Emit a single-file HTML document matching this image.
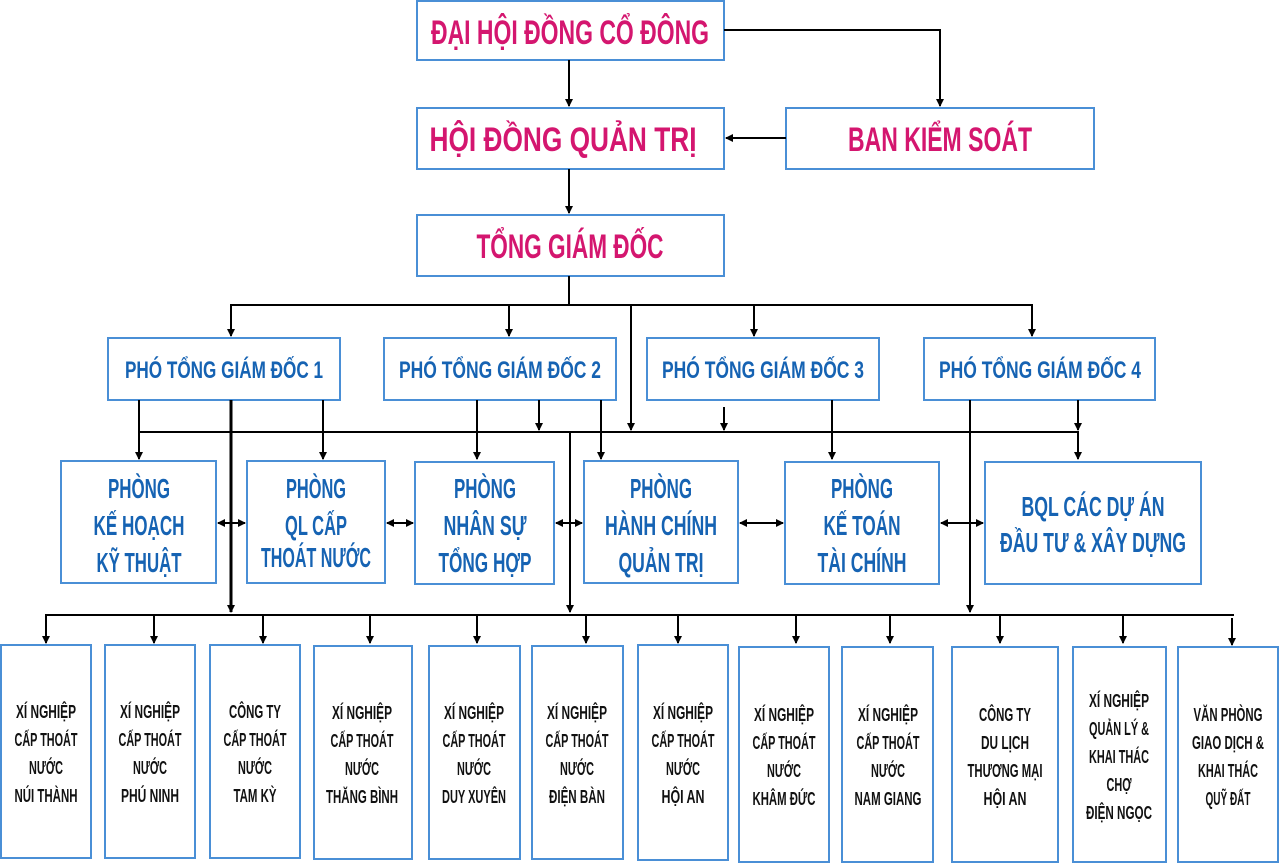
<!DOCTYPE html>
<html><head><meta charset="utf-8"><style>
html,body{margin:0;padding:0;background:#fff}
svg{display:block}
text{font-family:"Liberation Sans","DejaVu Sans",sans-serif;font-weight:bold;text-anchor:middle}
.t{fill:#d4166f;font-size:34px}
.p{fill:#1663b3;font-size:24px}
.d{fill:#1663b3;font-size:28px}
.b{fill:#111;font-size:18px}
rect{fill:#fff;stroke:#4a8fd6;stroke-width:2}
line,polyline{stroke:#000;stroke-width:2;fill:none}
</style></head><body>
<svg width="1280" height="864" viewBox="0 0 1280 864">
<defs>
<marker id="a" markerWidth="8" markerHeight="8" refX="7" refY="4" orient="auto" markerUnits="userSpaceOnUse" viewBox="0 0 8 8"><path d="M0,0 L8,4 L0,8 z" fill="#000"/></marker>
<marker id="s" markerWidth="8" markerHeight="8" refX="1" refY="4" orient="auto" markerUnits="userSpaceOnUse" viewBox="0 0 8 8"><path d="M8,0 L0,4 L8,8 z" fill="#000"/></marker>
</defs>

<rect x="417" y="1" width="307" height="59"/>
<rect x="417" y="108" width="307" height="61"/>
<rect x="786" y="108" width="308" height="61"/>
<rect x="417" y="215" width="307" height="61"/>
<text class="t" x="570" y="44" textLength="278" lengthAdjust="spacingAndGlyphs">ĐẠI HỘI ĐỒNG CỔ ĐÔNG</text>
<text class="t" x="563" y="151" textLength="267" lengthAdjust="spacingAndGlyphs">HỘI ĐỒNG QUẢN TRỊ</text>
<text class="t" x="940" y="151" textLength="184" lengthAdjust="spacingAndGlyphs">BAN KIỂM SOÁT</text>
<text class="t" x="570" y="258" textLength="187" lengthAdjust="spacingAndGlyphs">TỔNG GIÁM ĐỐC</text>

<polyline points="724,30 940,30 940,106" marker-end="url(#a)"/>
<line x1="569" y1="60" x2="569" y2="106" marker-end="url(#a)"/>
<line x1="786" y1="138" x2="726" y2="138" marker-end="url(#a)"/>
<line x1="569" y1="169" x2="569" y2="213" marker-end="url(#a)"/>
<line x1="569" y1="276" x2="569" y2="305"/>
<line x1="230" y1="305" x2="1033" y2="305"/>
<line x1="231" y1="305" x2="231" y2="336" marker-end="url(#a)"/>
<line x1="509" y1="305" x2="509" y2="336" marker-end="url(#a)"/>
<line x1="754" y1="305" x2="754" y2="336" marker-end="url(#a)"/>
<line x1="1032" y1="305" x2="1032" y2="336" marker-end="url(#a)"/>
<line x1="631" y1="305" x2="631" y2="430" marker-end="url(#a)"/>

<rect x="108" y="338" width="232" height="62"/>
<rect x="384" y="338" width="232" height="62"/>
<rect x="647" y="338" width="232" height="62"/>
<rect x="924" y="338" width="231" height="62"/>
<text class="p" x="224" y="378" textLength="198" lengthAdjust="spacingAndGlyphs">PHÓ TỔNG GIÁM ĐỐC 1</text>
<text class="p" x="500" y="378" textLength="202" lengthAdjust="spacingAndGlyphs">PHÓ TỔNG GIÁM ĐỐC 2</text>
<text class="p" x="763" y="378" textLength="202" lengthAdjust="spacingAndGlyphs">PHÓ TỔNG GIÁM ĐỐC 3</text>
<text class="p" x="1040" y="378" textLength="202" lengthAdjust="spacingAndGlyphs">PHÓ TỔNG GIÁM ĐỐC 4</text>

<line x1="139" y1="432" x2="1079" y2="432"/>
<line x1="139" y1="400" x2="139" y2="459" marker-end="url(#a)"/>
<line x1="323" y1="400" x2="323" y2="459" marker-end="url(#a)"/>
<line x1="231" y1="400" x2="231" y2="612" marker-end="url(#a)" style="stroke-width:3"/>
<line x1="477" y1="400" x2="477" y2="459" marker-end="url(#a)"/>
<line x1="539" y1="400" x2="539" y2="430" marker-end="url(#a)"/>
<line x1="601" y1="400" x2="601" y2="459" marker-end="url(#a)"/>
<line x1="570" y1="432" x2="570" y2="612" marker-end="url(#a)"/>
<line x1="724" y1="407" x2="724" y2="430" marker-end="url(#a)"/>
<line x1="832" y1="400" x2="832" y2="459" marker-end="url(#a)"/>
<line x1="970" y1="400" x2="970" y2="612" marker-end="url(#a)"/>
<line x1="1078" y1="400" x2="1078" y2="430" marker-end="url(#a)"/>
<line x1="1078" y1="432" x2="1078" y2="459" marker-end="url(#a)"/>

<rect x="61" y="461" width="155" height="122"/>
<rect x="247" y="461" width="138" height="122"/>
<rect x="415" y="462" width="139" height="122"/>
<rect x="584" y="461" width="154" height="122"/>
<rect x="785" y="462" width="154" height="122"/>
<rect x="985" y="462" width="216" height="122"/>
<text class="d" x="139" y="498" textLength="62" lengthAdjust="spacingAndGlyphs">PHÒNG</text><text class="d" x="139" y="535" textLength="91" lengthAdjust="spacingAndGlyphs">KẾ HOẠCH</text><text class="d" x="139" y="572" textLength="85" lengthAdjust="spacingAndGlyphs">KỸ THUẬT</text>
<text class="d" x="316" y="498" textLength="60" lengthAdjust="spacingAndGlyphs">PHÒNG</text><text class="d" x="316" y="535" textLength="62" lengthAdjust="spacingAndGlyphs">QL CẤP</text><text class="d" x="316" y="567" textLength="110" lengthAdjust="spacingAndGlyphs">THOÁT NƯỚC</text>
<text class="d" x="485" y="498" textLength="62" lengthAdjust="spacingAndGlyphs">PHÒNG</text><text class="d" x="485" y="535" textLength="83" lengthAdjust="spacingAndGlyphs">NHÂN SỰ</text><text class="d" x="485" y="572" textLength="93" lengthAdjust="spacingAndGlyphs">TỔNG HỢP</text>
<text class="d" x="661" y="498" textLength="62" lengthAdjust="spacingAndGlyphs">PHÒNG</text><text class="d" x="661" y="535" textLength="112" lengthAdjust="spacingAndGlyphs">HÀNH CHÍNH</text><text class="d" x="661" y="572" textLength="85" lengthAdjust="spacingAndGlyphs">QUẢN TRỊ</text>
<text class="d" x="862" y="498" textLength="62" lengthAdjust="spacingAndGlyphs">PHÒNG</text><text class="d" x="862" y="535" textLength="77" lengthAdjust="spacingAndGlyphs">KẾ TOÁN</text><text class="d" x="862" y="572" textLength="89" lengthAdjust="spacingAndGlyphs">TÀI CHÍNH</text>
<text class="d" x="1093" y="516" textLength="143" lengthAdjust="spacingAndGlyphs">BQL CÁC DỰ ÁN</text><text class="d" x="1093" y="552" textLength="186" lengthAdjust="spacingAndGlyphs">ĐẦU TƯ &amp; XÂY DỰNG</text>
<line x1="218" y1="523" x2="245" y2="523" marker-start="url(#s)" marker-end="url(#a)"/>
<line x1="387" y1="523" x2="413" y2="523" marker-start="url(#s)" marker-end="url(#a)"/>
<line x1="556" y1="523" x2="582" y2="523" marker-start="url(#s)" marker-end="url(#a)"/>
<line x1="740" y1="523" x2="783" y2="523" marker-start="url(#s)" marker-end="url(#a)"/>
<line x1="941" y1="523" x2="983" y2="523" marker-start="url(#s)" marker-end="url(#a)"/>

<line x1="45" y1="615" x2="1234" y2="615"/>
<line x1="46" y1="615" x2="46" y2="643" marker-end="url(#a)"/>
<line x1="154" y1="615" x2="154" y2="643" marker-end="url(#a)"/>
<line x1="263" y1="615" x2="263" y2="643" marker-end="url(#a)"/>
<line x1="370" y1="615" x2="370" y2="643" marker-end="url(#a)"/>
<line x1="477" y1="615" x2="477" y2="643" marker-end="url(#a)"/>
<line x1="586" y1="615" x2="586" y2="643" marker-end="url(#a)"/>
<line x1="678" y1="615" x2="678" y2="643" marker-end="url(#a)"/>
<line x1="796" y1="615" x2="796" y2="643" marker-end="url(#a)"/>
<line x1="890" y1="615" x2="890" y2="643" marker-end="url(#a)"/>
<line x1="1000" y1="615" x2="1000" y2="643" marker-end="url(#a)"/>
<line x1="1123" y1="615" x2="1123" y2="643" marker-end="url(#a)"/>
<line x1="1232" y1="618" x2="1232" y2="645" marker-end="url(#a)"/>
<rect x="1" y="645" width="90" height="213"/>
<rect x="105" y="645" width="90" height="213"/>
<rect x="210" y="645" width="90" height="213"/>
<rect x="314" y="646" width="98" height="213"/>
<rect x="429" y="646" width="91" height="213"/>
<rect x="532" y="646" width="91" height="213"/>
<rect x="638" y="645" width="90" height="215"/>
<rect x="739" y="647" width="90" height="215"/>
<rect x="842" y="647" width="91" height="215"/>
<rect x="952" y="647" width="106" height="215"/>
<rect x="1073" y="647" width="93" height="215"/>
<rect x="1178" y="647" width="100" height="215"/>

<text class="b" x="46" y="718" textLength="60" lengthAdjust="spacingAndGlyphs">XÍ NGHIỆP</text><text class="b" x="46" y="746" textLength="63" lengthAdjust="spacingAndGlyphs">CẤP THOÁT</text><text class="b" x="46" y="774" textLength="34" lengthAdjust="spacingAndGlyphs">NƯỚC</text><text class="b" x="46" y="802" textLength="63" lengthAdjust="spacingAndGlyphs">NÚI THÀNH</text>
<text class="b" x="150" y="718" textLength="60" lengthAdjust="spacingAndGlyphs">XÍ NGHIỆP</text><text class="b" x="150" y="746" textLength="63" lengthAdjust="spacingAndGlyphs">CẤP THOÁT</text><text class="b" x="150" y="774" textLength="34" lengthAdjust="spacingAndGlyphs">NƯỚC</text><text class="b" x="150" y="802" textLength="58" lengthAdjust="spacingAndGlyphs">PHÚ NINH</text>
<text class="b" x="255" y="718" textLength="52" lengthAdjust="spacingAndGlyphs">CÔNG TY</text><text class="b" x="255" y="746" textLength="63" lengthAdjust="spacingAndGlyphs">CẤP THOÁT</text><text class="b" x="255" y="774" textLength="34" lengthAdjust="spacingAndGlyphs">NƯỚC</text><text class="b" x="255" y="802" textLength="43" lengthAdjust="spacingAndGlyphs">TAM KỲ</text>
<text class="b" x="362" y="719" textLength="60" lengthAdjust="spacingAndGlyphs">XÍ NGHIỆP</text><text class="b" x="362" y="747" textLength="63" lengthAdjust="spacingAndGlyphs">CẤP THOÁT</text><text class="b" x="362" y="775" textLength="34" lengthAdjust="spacingAndGlyphs">NƯỚC</text><text class="b" x="362" y="803" textLength="72" lengthAdjust="spacingAndGlyphs">THĂNG BÌNH</text>
<text class="b" x="474" y="719" textLength="60" lengthAdjust="spacingAndGlyphs">XÍ NGHIỆP</text><text class="b" x="474" y="747" textLength="63" lengthAdjust="spacingAndGlyphs">CẤP THOÁT</text><text class="b" x="474" y="775" textLength="34" lengthAdjust="spacingAndGlyphs">NƯỚC</text><text class="b" x="474" y="803" textLength="64" lengthAdjust="spacingAndGlyphs">DUY XUYÊN</text>
<text class="b" x="577" y="719" textLength="60" lengthAdjust="spacingAndGlyphs">XÍ NGHIỆP</text><text class="b" x="577" y="747" textLength="63" lengthAdjust="spacingAndGlyphs">CẤP THOÁT</text><text class="b" x="577" y="775" textLength="34" lengthAdjust="spacingAndGlyphs">NƯỚC</text><text class="b" x="577" y="803" textLength="56" lengthAdjust="spacingAndGlyphs">ĐIỆN BÀN</text>
<text class="b" x="683" y="719" textLength="60" lengthAdjust="spacingAndGlyphs">XÍ NGHIỆP</text><text class="b" x="683" y="747" textLength="63" lengthAdjust="spacingAndGlyphs">CẤP THOÁT</text><text class="b" x="683" y="775" textLength="34" lengthAdjust="spacingAndGlyphs">NƯỚC</text><text class="b" x="683" y="803" textLength="43" lengthAdjust="spacingAndGlyphs">HỘI AN</text>
<text class="b" x="784" y="721" textLength="60" lengthAdjust="spacingAndGlyphs">XÍ NGHIỆP</text><text class="b" x="784" y="749" textLength="63" lengthAdjust="spacingAndGlyphs">CẤP THOÁT</text><text class="b" x="784" y="777" textLength="34" lengthAdjust="spacingAndGlyphs">NƯỚC</text><text class="b" x="784" y="805" textLength="63" lengthAdjust="spacingAndGlyphs">KHÂM ĐỨC</text>
<text class="b" x="888" y="721" textLength="60" lengthAdjust="spacingAndGlyphs">XÍ NGHIỆP</text><text class="b" x="888" y="749" textLength="63" lengthAdjust="spacingAndGlyphs">CẤP THOÁT</text><text class="b" x="888" y="777" textLength="34" lengthAdjust="spacingAndGlyphs">NƯỚC</text><text class="b" x="888" y="805" textLength="67" lengthAdjust="spacingAndGlyphs">NAM GIANG</text>
<text class="b" x="1005" y="721" textLength="52" lengthAdjust="spacingAndGlyphs">CÔNG TY</text><text class="b" x="1005" y="749" textLength="48" lengthAdjust="spacingAndGlyphs">DU LỊCH</text><text class="b" x="1005" y="777" textLength="75" lengthAdjust="spacingAndGlyphs">THƯƠNG MẠI</text><text class="b" x="1005" y="805" textLength="43" lengthAdjust="spacingAndGlyphs">HỘI AN</text>
<text class="b" x="1119" y="707" textLength="60" lengthAdjust="spacingAndGlyphs">XÍ NGHIỆP</text><text class="b" x="1119" y="735" textLength="60" lengthAdjust="spacingAndGlyphs">QUẢN LÝ &amp;</text><text class="b" x="1119" y="763" textLength="60" lengthAdjust="spacingAndGlyphs">KHAI THÁC</text><text class="b" x="1119" y="791" textLength="25" lengthAdjust="spacingAndGlyphs">CHỢ</text><text class="b" x="1119" y="819" textLength="66" lengthAdjust="spacingAndGlyphs">ĐIỆN NGỌC</text>
<text class="b" x="1228" y="721" textLength="69" lengthAdjust="spacingAndGlyphs">VĂN PHÒNG</text><text class="b" x="1228" y="749" textLength="72" lengthAdjust="spacingAndGlyphs">GIAO DỊCH &amp;</text><text class="b" x="1228" y="777" textLength="60" lengthAdjust="spacingAndGlyphs">KHAI THÁC</text><text class="b" x="1228" y="805" textLength="45" lengthAdjust="spacingAndGlyphs">QUỸ ĐẤT</text>
</svg>
</body></html>
